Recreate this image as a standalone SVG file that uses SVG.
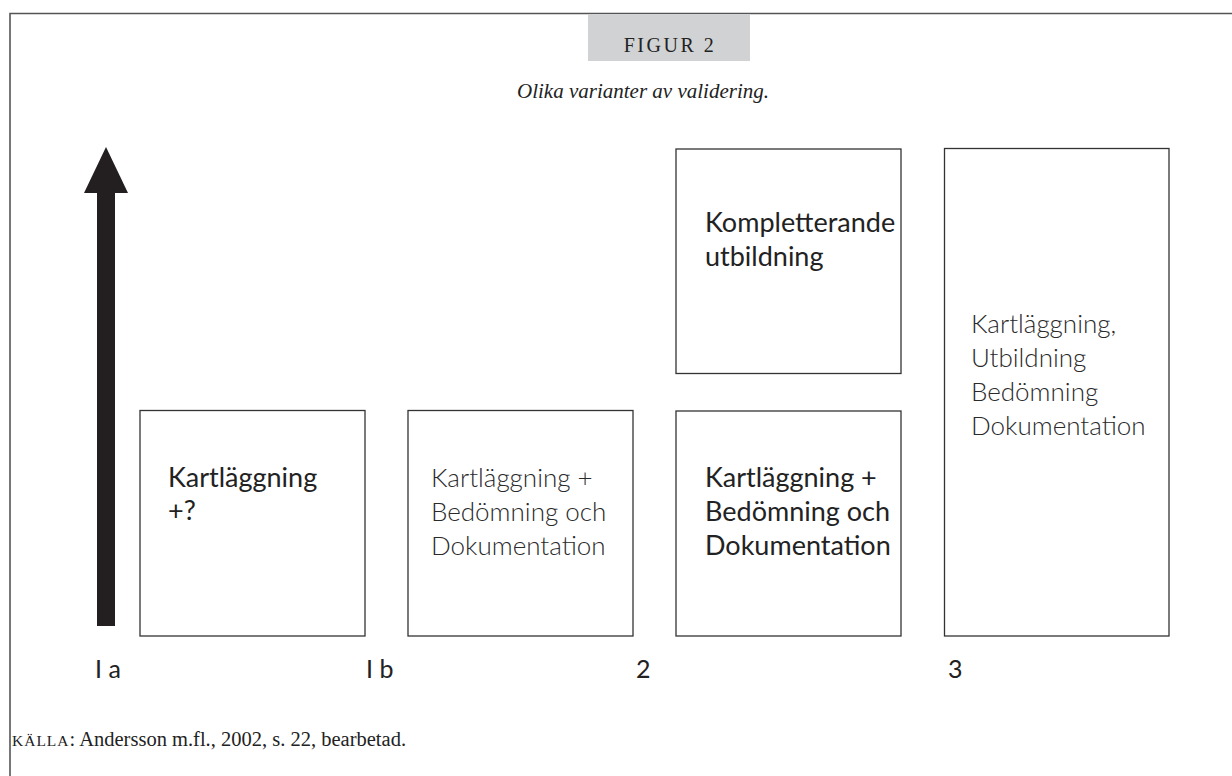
<svg xmlns="http://www.w3.org/2000/svg" width="1232" height="776" viewBox="0 0 1232 776">
<defs>
<style>
.frame{stroke:#555;stroke-width:1.6;fill:none}
.box{fill:#fff;stroke:#333;stroke-width:1.3}
.t{font-family:Lato,"Open Sans","Liberation Sans",sans-serif;font-size:27px;fill:#222}
.lt{font-size:26px;font-weight:300;fill:#2a2a2a}
.lbl{font-family:Lato,"Open Sans","Liberation Sans",sans-serif;font-size:25px;fill:#222}
.serif{font-family:"Liberation Serif","DejaVu Serif",serif;fill:#222}
</style>
</defs>
<rect width="1232" height="776" fill="#fff"/>
<g id="frame">
<path class="frame" d="M10 776 V13.5 H1232"/>
</g>
<g id="title">
<rect x="588" y="14" width="162" height="47" fill="#d1d2d4"/>
<text class="serif" x="670" y="52" text-anchor="middle" font-size="20" letter-spacing="2.5">FIGUR 2</text>
<text class="serif" x="643" y="98" text-anchor="middle" font-size="21" font-style="italic">Olika varianter av validering.</text>
</g>
<g id="connectors">
<rect x="97" y="190" width="18" height="436" fill="#231f20"/>
<polygon points="106,147 128,193 84,193" fill="#231f20"/>
</g>
<g id="node-1a">
<rect class="box" x="140" y="410.5" width="225" height="225.5"/>
<text class="t" x="168" y="487">Kartläggning</text>
<text class="t" x="168" y="520">+?</text>
</g>
<g id="node-1b">
<rect class="box" x="408" y="410.5" width="225" height="225.5"/>
<text class="t lt" x="431" y="487">Kartläggning +</text>
<text class="t lt" x="431" y="521">Bedömning och</text>
<text class="t lt" x="431" y="555">Dokumentation</text>
</g>
<g id="node-2-top">
<rect class="box" x="676" y="149" width="225" height="224.5"/>
<text class="t" x="705" y="232">Kompletterande</text>
<text class="t" x="705" y="266">utbildning</text>
</g>
<g id="node-2-bottom">
<rect class="box" x="676" y="411" width="225" height="225"/>
<text class="t" x="705" y="487">Kartläggning +</text>
<text class="t" x="705" y="521">Bedömning och</text>
<text class="t" x="705" y="555">Dokumentation</text>
</g>
<g id="node-3">
<rect class="box" x="944.5" y="148.5" width="224.5" height="487.5"/>
<text class="t lt" x="971" y="333">Kartläggning,</text>
<text class="t lt" x="971" y="367">Utbildning</text>
<text class="t lt" x="971" y="401">Bedömning</text>
<text class="t lt" x="971" y="435">Dokumentation</text>
</g>
<g id="axis-labels">
<text class="lbl" x="95" y="678">I a</text>
<text class="lbl" x="366" y="678">I b</text>
<text class="lbl" x="636" y="678">2</text>
<text class="lbl" x="948" y="678">3</text>
</g>
<g id="source">
<text class="serif" x="12" y="746" font-size="20.5"><tspan font-size="15.5" letter-spacing="1">KÄLLA</tspan>: Andersson m.fl., 2002, s. 22, bearbetad.</text>
</g>
</svg>
